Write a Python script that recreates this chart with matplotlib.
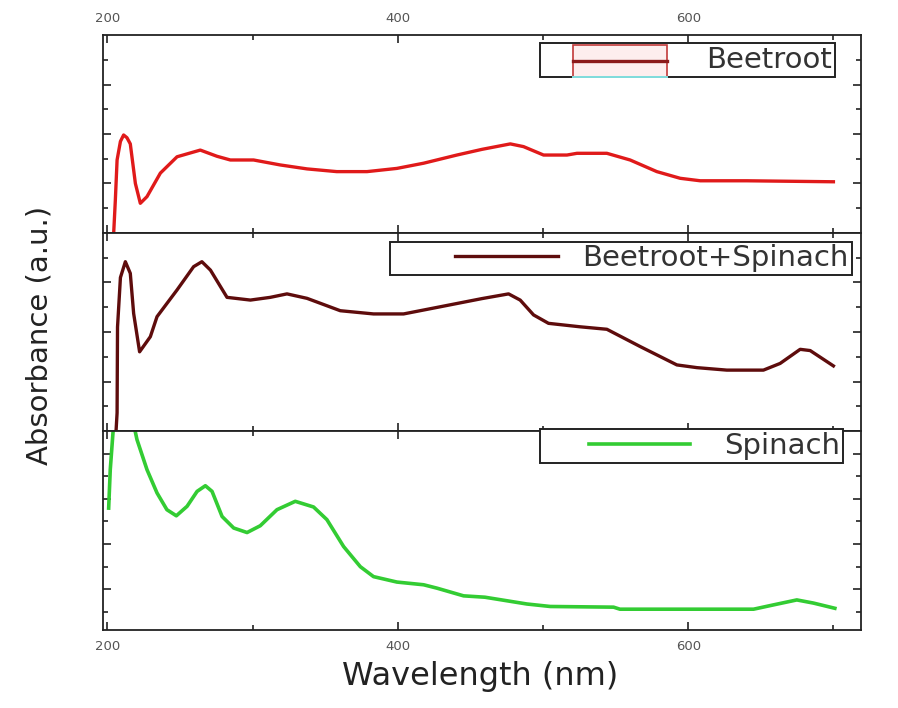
import matplotlib
matplotlib.use("Agg")
import matplotlib.pyplot as plt
from matplotlib.lines import Line2D
from matplotlib.patches import Rectangle
from matplotlib.legend_handler import HandlerBase
from matplotlib.ticker import FixedLocator

# ---------------- data ----------------
beet_wl = [203.5, 205.5, 206.7, 209.0, 211.2, 213.5, 215.8, 219.3, 222.7, 227.3, 236.5, 248.0,
           264.0, 275.5, 284.7, 300.7, 319.0, 337.5, 358.0, 378.8, 399.4, 417.8, 440.7,
           458.0, 477.5, 486.6, 500.4, 516.5, 523.4, 544.0, 560.0, 578.4, 594.5, 608.3,
           640.4, 700.0]
beet_ab = [-1.0, 1.33, 2.95, 3.7, 3.96, 3.85, 3.6, 2.0, 1.2, 1.47, 2.42, 3.08,
           3.35, 3.1, 2.95, 2.95, 2.75, 2.59, 2.48, 2.48, 2.61, 2.82, 3.15,
           3.38, 3.6, 3.49, 3.15, 3.15, 3.22, 3.22, 2.95, 2.48, 2.21, 2.11,
           2.11, 2.07]

mix_wl = [205.0, 206.7, 207.0, 209.0, 212.4, 215.8, 218.1, 222.2, 229.6, 234.2, 248.0, 259.4,
          265.1, 271.0, 282.4, 298.5, 312.2, 323.7, 337.5, 360.4, 383.3, 404.0, 429.3,
          458.0, 476.3, 484.3, 493.5, 503.8, 525.6, 544.0, 567.0, 592.2, 606.0, 626.6,
          651.8, 663.3, 677.1, 684.0, 700.0]
mix_ab = [-1.0, 0.73, 4.2, 6.2, 6.84, 6.37, 4.75, 3.2, 3.81, 4.62, 5.7, 6.64,
          6.84, 6.5, 5.4, 5.29, 5.4, 5.54, 5.36, 4.86, 4.73, 4.73, 5.02,
          5.35, 5.54, 5.29, 4.69, 4.35, 4.21, 4.11, 3.41, 2.67, 2.56, 2.46,
          2.46, 2.73, 3.3, 3.25, 2.63]

spin_wl = [200.9, 202.0, 204.3, 211.0, 218.1, 220.4, 227.3, 234.2, 241.0, 247.5, 254.9, 261.8,
           267.5, 272.1, 279.0, 287.0, 296.2, 305.3, 316.8, 329.4, 342.0, 351.2, 362.7,
           374.2, 383.3, 399.4, 417.8, 427.0, 445.3, 460.0, 488.9, 505.0, 548.6, 553.0,
           645.0, 658.7, 674.8, 686.3, 701.0]
spin_ab = [5.59, 7.29, 9.3, 11.0, 9.3, 8.62, 7.29, 6.26, 5.52, 5.25, 5.67, 6.33,
           6.58, 6.33, 5.22, 4.71, 4.51, 4.81, 5.52, 5.89, 5.64, 5.08, 3.89,
           3.0, 2.56, 2.32, 2.2, 2.05, 1.71, 1.65, 1.35, 1.24, 1.21, 1.12,
           1.12, 1.31, 1.53, 1.39, 1.16]

x_major = [200, 400, 600]
x_minor = [300, 500, 700]
x_limits = (197, 719)

labels = ["Beetroot", "Beetroot+Spinach", "Spinach"]
colors = ["#e01a1a", "#5e0c0c", "#33cc33"]


class PartLineHandler(HandlerBase):
    """Draw the legend line on part [a, b] of the handle box."""
    def __init__(self, a, b, boxed=False):
        super().__init__()
        self.a, self.b, self.boxed = a, b, boxed

    def create_artists(self, legend, orig_handle, xdescent, ydescent, width, height,
                       fontsize, trans):
        x0 = -xdescent + width * self.a
        x1 = -xdescent + width * self.b
        yc = -ydescent + height / 2
        arts = []
        if self.boxed:
            yc = -ydescent + 0.32 * height
            y0 = yc - 0.78 * height
            h = 1.56 * height
            r = Rectangle((x0, y0), x1 - x0, h, facecolor="#fdeeee", edgecolor="#c23a3a", lw=1.2)
            r.set_transform(trans)
            arts.append(r)
            c = Line2D([x0, x1], [y0, y0], color="#7fe0e0", lw=1.4)
            c.set_transform(trans)
            arts.append(c)
        ln = Line2D([x0, x1], [yc, yc], color=orig_handle.get_color(), lw=orig_handle.get_linewidth())
        ln.set_transform(trans)
        arts.append(ln)
        return arts


# ---------------- figure ----------------
fig = plt.figure(figsize=(8.98, 7.08), dpi=100)
L, W = 103 / 898, 758 / 898
ax_top = fig.add_axes([L, 1 - 233 / 708, W, 198 / 708])
ax_mid = fig.add_axes([L, 1 - 431 / 708, W, 198 / 708])
ax_bot = fig.add_axes([L, 1 - 630 / 708, W, 199 / 708])
axes = [ax_top, ax_mid, ax_bot]

ax_top.plot(beet_wl, beet_ab, color=colors[0], lw=2.4, solid_joinstyle="round")
ax_mid.plot(mix_wl, mix_ab, color=colors[1], lw=2.4, solid_joinstyle="round")
ax_bot.plot(spin_wl, spin_ab, color=colors[2], lw=2.6, solid_joinstyle="round")

ax_top.set_ylim(0, 8)
ax_mid.set_ylim(0, 8)
ax_bot.set_ylim(0.2, 9.0)

tick_col = "#555555"
for i, ax in enumerate(axes):
    ax.set_xlim(*x_limits)
    ax.xaxis.set_major_locator(FixedLocator(x_major))
    ax.xaxis.set_minor_locator(FixedLocator(x_minor))
    if i < 2:
        ax.yaxis.set_major_locator(FixedLocator([2, 4, 6]))
        ax.yaxis.set_minor_locator(FixedLocator([1, 3, 5, 7]))
    else:
        ax.yaxis.set_major_locator(FixedLocator([2, 4, 6, 8]))
        ax.yaxis.set_minor_locator(FixedLocator([1, 3, 5, 7]))
    ax.tick_params(which="both", direction="in", top=True, bottom=True, left=True, right=True,
                   labelleft=False, labelright=False, labeltop=(i == 0), labelbottom=(i == 2),
                   width=1.2, colors="#222222", labelcolor=tick_col, labelsize=9.5)
    ax.tick_params(which="major", length=6, pad=7)
    ax.tick_params(which="minor", length=3.5)
    for s in ax.spines.values():
        s.set_linewidth(1.3)
        s.set_color("#222222")

FS = 21
leg_kw = dict(frameon=True, fancybox=False, framealpha=1, edgecolor="#222222",
              borderpad=0.1, handletextpad=0.4, borderaxespad=0.0,
              prop={"size": FS})

h_top = Line2D([], [], color="#8b1a1a", lw=2.4)
lg1 = ax_top.legend([h_top], [labels[0]], handler_map={Line2D: PartLineHandler(0.2, 0.82, boxed=True)},
                    loc="upper right", bbox_to_anchor=(0.966, 0.96), handlelength=5.2, **leg_kw)

h_mid = Line2D([], [], color=colors[1], lw=2.4)
lg2 = ax_mid.legend([h_mid], [labels[1]], handler_map={Line2D: PartLineHandler(0.35, 0.93)},
                    loc="upper right", bbox_to_anchor=(0.988, 0.957),
                    handlelength=6.1, **leg_kw)

h_bot = Line2D([], [], color=colors[2], lw=2.6)
lg3 = ax_bot.legend([h_bot], [labels[2]], handler_map={Line2D: PartLineHandler(0.27, 0.87)},
                    loc="upper right", bbox_to_anchor=(0.976, 1.01),
                    handlelength=5.8, **leg_kw)
for lg in (lg1, lg2, lg3):
    lg.get_frame().set_linewidth(1.4)
    for t in lg.get_texts():
        t.set_color("#333333")

fig.text(40 / 898, 1 - 335 / 708, "Absorbance (a.u.)", rotation=90, ha="center", va="center",
         fontsize=21, color="#222222")
fig.text(480 / 898, 1 - 676 / 708, "Wavelength (nm)", ha="center", va="center",
         fontsize=23, color="#222222")

fig.savefig("out.png", dpi=100)
